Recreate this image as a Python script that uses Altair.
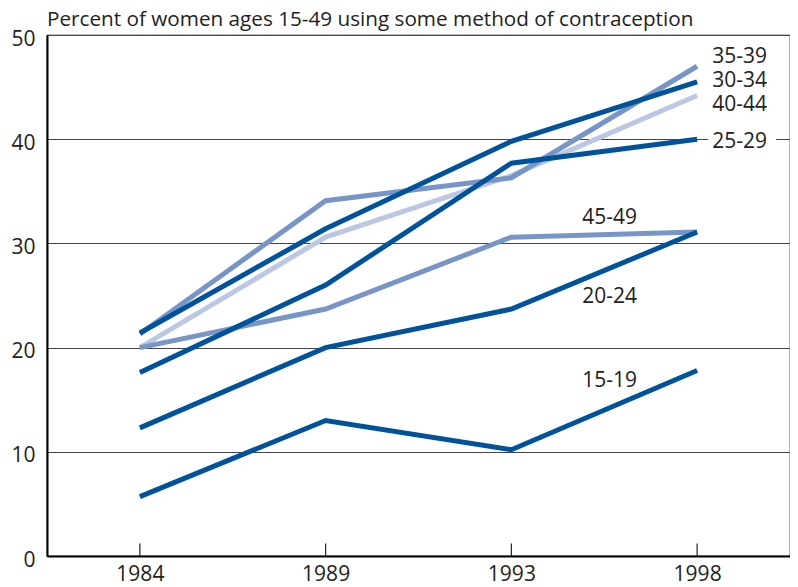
import altair as alt
import pandas as pd

years = ["1984", "1989", "1993", "1998"]
groups = ["15-19", "20-24", "25-29", "30-34", "35-39", "40-44", "45-49"]
v15_19 = [5.7, 13.0, 10.2, 17.8]
v20_24 = [12.3, 20.0, 23.7, 31.1]
v25_29 = [17.6, 26.0, 37.7, 40.0]
v30_34 = [21.4, 31.4, 39.8, 45.5]
v35_39 = [21.3, 34.1, 36.3, 47.0]
v40_44 = [20.0, 30.6, 36.5, 44.2]
v45_49 = [20.0, 23.7, 30.6, 31.1]
series = [v15_19, v20_24, v25_29, v30_34, v35_39, v40_44, v45_49]
colors = ["#00529b", "#00529b", "#00529b", "#00529b", "#7895c7", "#bcc8e3", "#7895c7"]
draw_order = [5, 4, 6, 0, 1, 2, 3]

# labels: right-hand labels and mid-plot labels (label baseline in data units)
right_labels = ["35-39", "30-34", "40-44", "25-29"]
right_label_y = [47.3, 45.0, 42.7, 39.2]
mid_labels = ["45-49", "20-24", "15-19"]
mid_label_y = [31.9, 24.3, 16.2]

rows = []
for gi in draw_order:
    for yr, v in zip(years, series[gi]):
        rows.append({"year": yr, "group": groups[gi], "value": v, "order": draw_order.index(gi)})
df = pd.DataFrame(rows)

FONT = "Open Sans"
TXT = "#222222"

x_scale = alt.Scale(domain=years, type="point", padding=0.5)
y_scale = alt.Scale(domain=[0, 50], nice=False)

lines = alt.Chart(df).mark_line(strokeWidth=5, strokeJoin="miter", strokeCap="butt").encode(
    x=alt.X("year:N", scale=x_scale, sort=years,
            axis=alt.Axis(title=None, labelAngle=0, ticks=False, domainColor="black",
                          domainWidth=2, labelFont=FONT, labelFontSize=21,
                          labelColor=TXT, labelPadding=7, grid=False)),
    y=alt.Y("value:Q", scale=y_scale,
            axis=alt.Axis(title=None, values=[0, 10, 20, 30, 40, 50], ticks=False,
                          domainColor="black", domainWidth=2, labelFont=FONT, labelFontSize=21,
                          labelColor=TXT, labelPadding=12, labelOffset=4, grid=True,
                          gridColor="#444", gridWidth=1.2)),
    color=alt.Color("group:N", scale=alt.Scale(domain=groups, range=colors), legend=None),
    detail="group:N",
    order=alt.Order("order:Q"),
)

ticks_df = pd.DataFrame({"year": years, "y0": [0] * len(years), "y1": [1.2] * len(years)})
ticks = alt.Chart(ticks_df).mark_rule(color=TXT, strokeWidth=1.2).encode(
    x=alt.X("year:N", scale=x_scale, sort=years), y="y0:Q", y2="y1:Q"
)

# white gap in the 40 gridline behind the "25-29" label
gap_df = pd.DataFrame({"year": ["1998"], "y": [40]})
gap = alt.Chart(gap_df).mark_tick(orient="horizontal", color="white", size=68, thickness=4,
                                  xOffset=45, opacity=1).encode(
    x=alt.X("year:N", scale=x_scale, sort=years), y=alt.Y("y:Q", scale=y_scale))

rl_df = pd.DataFrame({"label": right_labels, "y": right_label_y, "year": ["1998"] * 4})
rl_text = alt.Chart(rl_df).mark_text(align="left", baseline="alphabetic", dx=15, font=FONT,
                                     fontSize=21, color=TXT).encode(
    x=alt.X("year:N", scale=x_scale, sort=years), y=alt.Y("y:Q", scale=y_scale), text="label:N")

ml_df = pd.DataFrame({"label": mid_labels, "y": mid_label_y, "year": ["1998"] * 3})
ml_text = alt.Chart(ml_df).mark_text(align="left", baseline="alphabetic", dx=-115, font=FONT,
                                     fontSize=21, color=TXT).encode(
    x=alt.X("year:N", scale=x_scale, sort=years), y=alt.Y("y:Q", scale=y_scale), text="label:N")

chart = alt.layer(lines, ticks, gap, rl_text, ml_text).properties(
    width=743, height=521,
    title=alt.TitleParams("Percent of women ages 15-49 using some method of contraception",
                          anchor="start", frame="group", font=FONT, fontSize=20.7,
                          fontWeight="normal", color=TXT, offset=0, dy=3),
    autosize=alt.AutoSizeParams(type="none"),
    padding={"left": 39, "top": 27, "right": 0, "bottom": 31},
).configure_view(stroke="black", strokeWidth=1.2)

chart.save("out.html", embed_options={"renderer": "svg", "actions": False})
